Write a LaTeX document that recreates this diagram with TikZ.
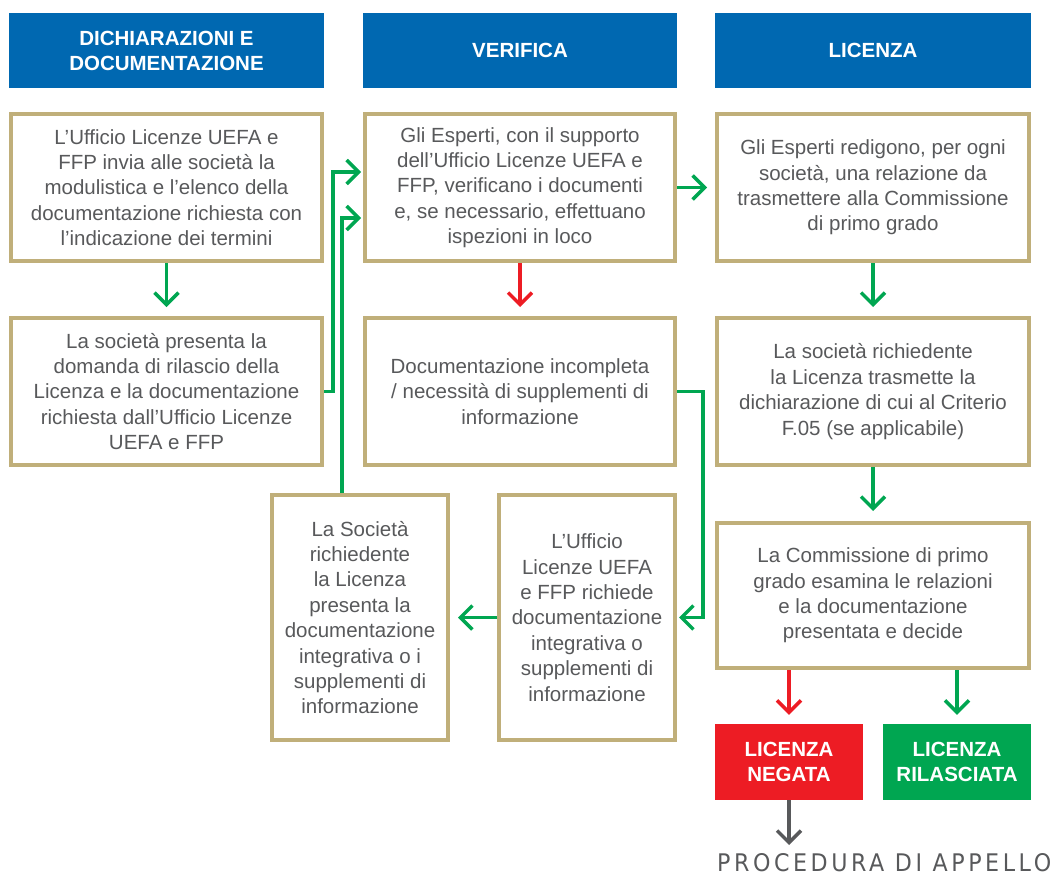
\documentclass[tikz,border=0pt]{standalone}
\usepackage{fontspec}
\setmainfont{Liberation Sans}
\newfontfamily\procfont[LetterSpace=16]{DejaVu Sans}
\usetikzlibrary{arrows.meta}
\definecolor{tanc}{HTML}{C0AF7A}
\definecolor{hblue}{HTML}{0068B1}
\definecolor{agreen}{HTML}{00A651}
\definecolor{ared}{HTML}{ED1C24}
\definecolor{txtgray}{HTML}{58595B}
\begin{document}
\begin{tikzpicture}[x=1pt,y=-1pt,
  box/.style={draw=tanc, line width=4pt, fill=white, text=txtgray, align=center,
    font=\fontsize{20.5}{25.4}\selectfont, inner sep=0pt},
  colbox/.style={box, minimum width=311pt, minimum height=147pt},
  tallbox/.style={box, minimum width=176pt, minimum height=245pt},
  hdr/.style={fill=hblue, text=white, align=center, font=\bfseries\fontsize{20.5}{25}\selectfont,
    inner sep=0pt, minimum width=315pt, minimum height=75pt},
  res/.style={text=white, align=center, font=\bfseries\fontsize{20.5}{25.5}\selectfont,
    inner sep=0pt, minimum width=148pt, minimum height=76pt},
  barrow/.style={line width=3.5pt, -{Straight Barb[length=12pt,width=24pt]}},
  garr/.style={barrow, draw=agreen},
  rarr/.style={barrow, draw=ared},
  karr/.style={barrow, draw=txtgray}
]
\useasboundingbox (0,0) rectangle (1051,875);

% headers
\node[hdr] (h1) at (166.5,50.5) {DICHIARAZIONI E\\DOCUMENTAZIONE};
\node[hdr, minimum width=314pt] (h2) at (520,50.5) {VERIFICA};
\node[hdr, minimum width=316pt] (h3) at (873,50.5) {LICENZA};

% row 1
\node[colbox] (r1c1) at (166.5,187.5) {L’Ufficio Licenze UEFA e\\FFP invia alle società la\\modulistica e l’elenco della\\documentazione richiesta con\\l’indicazione dei termini};
\node[colbox, minimum width=310pt] (r1c2) at (520,187.5) {Gli Esperti, con il supporto\\dell’Ufficio Licenze UEFA e\\FFP, verificano i documenti\\e, se necessario, effettuano\\ispezioni in loco};
\node[colbox, minimum width=312pt] (r1c3) at (873,187.5) {Gli Esperti redigono, per ogni\\società, una relazione da\\trasmettere alla Commissione\\di primo grado};

% row 2
\node[colbox] (r2c1) at (166.5,391.5) {La società presenta la\\domanda di rilascio della\\Licenza e la documentazione\\richiesta dall’Ufficio Licenze\\UEFA e FFP};
\node[colbox, minimum width=310pt] (r2c2) at (520,391.5) {Documentazione incompleta\\/ necessità di supplementi di\\informazione};
\node[colbox, minimum width=312pt] (r2c3) at (873,391.5) {La società richiedente\\la Licenza trasmette la\\dichiarazione di cui al Criterio\\F.05 (se applicabile)};

% row 3
\node[tallbox] (soc) at (360,617.5) {La Società\\richiedente\\la Licenza\\presenta la\\documentazione\\integrativa o i\\supplementi di\\informazione};
\node[tallbox] (uff) at (587,617.5) {L’Ufficio\\Licenze UEFA\\e FFP richiede\\documentazione\\integrativa o\\supplementi di\\informazione};
\node[colbox, minimum width=312pt, minimum height=145pt] (r3c3) at (873,595.5) {La Commissione di primo\\grado esamina le relazioni\\e la documentazione\\presentata e decide};

% results
\node[res, fill=ared] (neg) at (789,762) {LICENZA\\NEGATA};
\node[res, fill=agreen] (ril) at (957,762) {LICENZA\\RILASCIATA};

\node[inner sep=0pt, text=txtgray, anchor=north west] (proc) at (717,853)
  {\resizebox{334pt}{18pt}{\procfont PROCEDURA DI APPELLO}};

% connectors
\draw[garr, shorten >=9pt] (r1c1) -- (r2c1);
\draw[rarr, shorten >=9pt] (r1c2) -- (r2c2);
\draw[garr, shorten >=9pt] (r1c3) -- (r2c3);
\draw[garr, shorten >=10pt] (r2c3) -- (r3c3);
\draw[garr, shorten >=8pt] (r1c2) -- (r1c3);
\draw[garr, shorten >=2pt] (r2c1.east) -- ++(9,0) |- ([yshift=15.5pt]r1c2.west);
\draw[garr, shorten >=2pt] ([xshift=-18pt]soc.north) |- ([yshift=-30.5pt]r1c2.west);
\draw[garr, shorten >=2pt] (r2c2.east) -- ++(26,0) |- (uff.east);
\draw[garr, shorten >=8pt] (uff.west) -- (soc.east);
\draw[rarr, shorten >=9pt] (neg.north |- r3c3.south) -- (neg.north);
\draw[garr, shorten >=9pt] (ril.north |- r3c3.south) -- (ril.north);
\draw[karr, shorten >=8pt] (neg.south) -- (neg.south |- proc.north);
\end{tikzpicture}
\end{document}
